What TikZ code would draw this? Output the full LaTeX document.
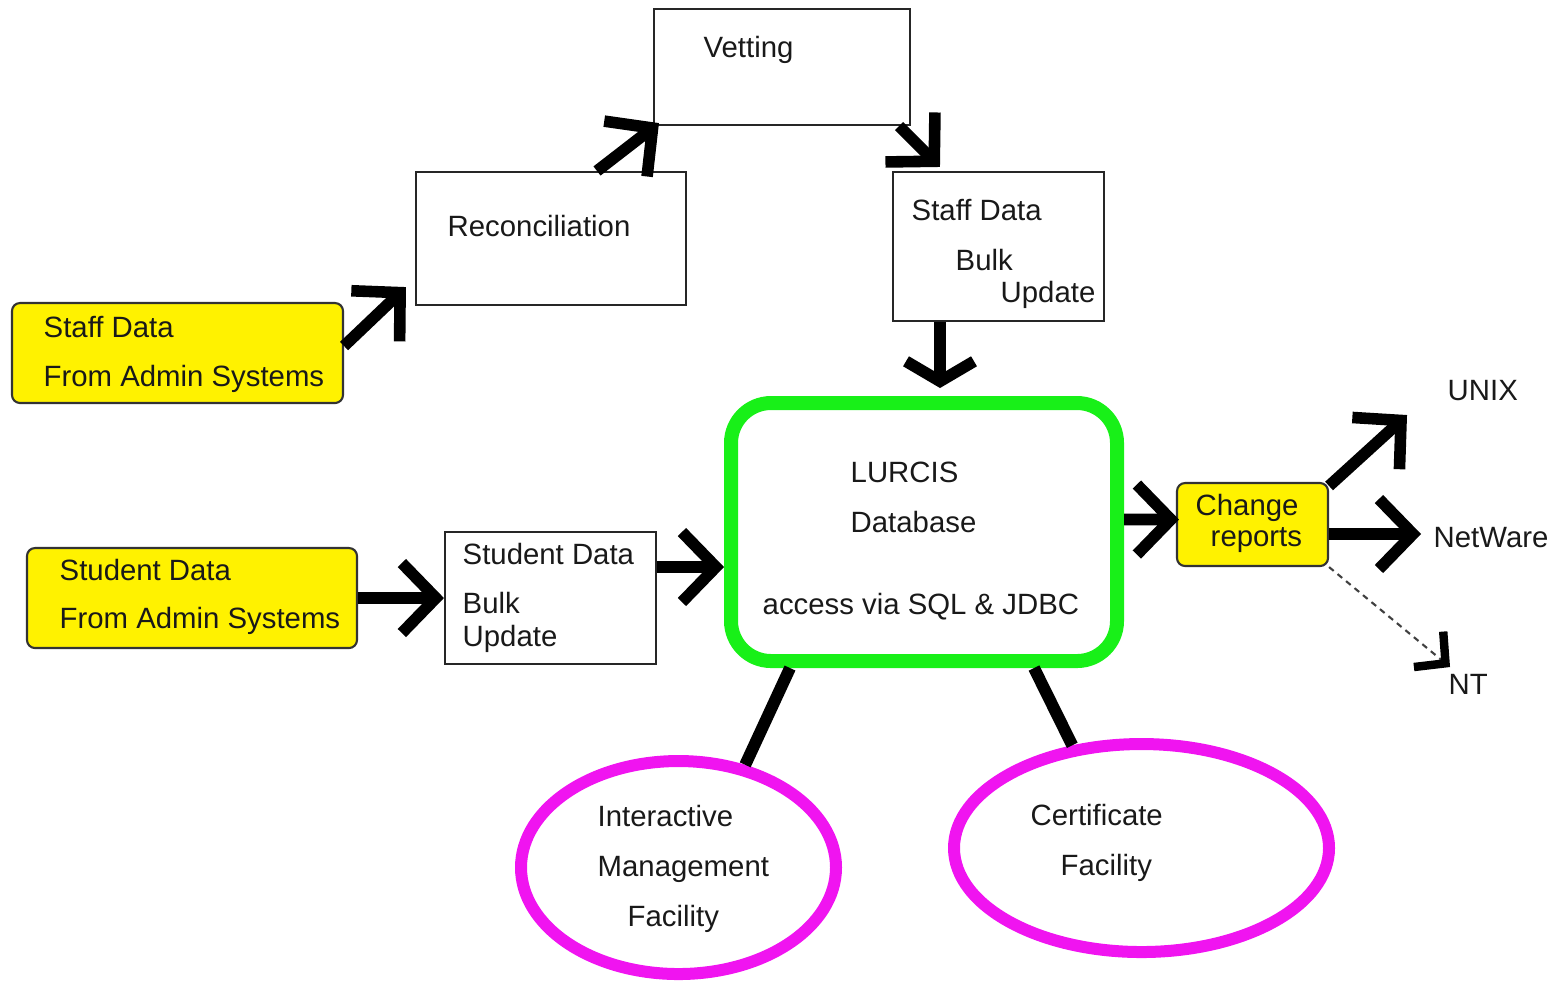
\documentclass[tikz,border=0pt]{standalone}
\usepackage{fontspec}
\setmainfont{Liberation Sans}
\usetikzlibrary{arrows.meta, shapes.geometric, positioning}
\definecolor{dbgreen}{RGB}{24,240,24}
\definecolor{facmag}{RGB}{240,20,240}

\begin{document}
\begin{tikzpicture}[font=\fontsize{8.35}{10}\selectfont,
    box/.style={rectangle, draw=black!85, line width=0.6pt, fill=white, inner sep=0pt},
    src/.style={rectangle, rounded corners=0.08cm, draw=black!80, line width=0.6pt, fill=yellow, inner sep=0pt},
    fac/.style={ellipse, draw=facmag, line width=0.12cm, inner sep=0pt},
    txt/.style={anchor=west, inner sep=0pt, text height=0.72em, text depth=0pt, yshift=0.025cm, text=black!90},
    flow/.style={line width=3.3pt, -{Straight Barb[length=0.34cm, width=0.70cm, sharp]}},
    link/.style={line width=3.4pt}]
        \useasboundingbox (0,0) rectangle (15.57,-9.80);

        % staff data path
        \node at (7.82,-0.67) [box, minimum width=2.56cm, minimum height=1.16cm] (vetting) {};
        \node at (7.03,-0.475) [txt] (vetting_t) {Vetting};

        \node at (5.51,-2.385) [box, minimum width=2.70cm, minimum height=1.33cm] (recon) {};
        \node at (4.47,-2.265) [txt] (recon_t) {Reconciliation};

        \node at (9.985,-2.465) [box, minimum width=2.11cm, minimum height=1.49cm] (staffbulk) {};
        \node at (9.11,-2.10) [txt] (staffbulk_t1) {Staff Data};
        \node at (9.55,-2.60) [txt] (staffbulk_t2) {Bulk};
        \node at (10.00,-2.925) [txt] (staffbulk_t3) {Update};

        \node at (1.775,-3.53) [src, minimum width=3.31cm, minimum height=1.00cm] (staff) {};
        \node at (0.43,-3.27) [txt] (staff_t1) {Staff Data};
        \node at (0.43,-3.76) [txt] (staff_t2) {From Admin Systems};

        % student data path
        \node at (1.92,-5.98) [src, minimum width=3.30cm, minimum height=1.00cm] (student) {};
        \node at (0.59,-5.70) [txt] (student_t1) {Student Data};
        \node at (0.59,-6.185) [txt] (student_t2) {From Admin Systems};

        \node at (5.505,-5.98) [box, minimum width=2.11cm, minimum height=1.32cm] (stubulk) {};
        \node at (4.62,-5.54) [txt] (stubulk_t1) {Student Data};
        \node at (4.62,-6.03) [txt] (stubulk_t2) {Bulk};
        \node at (4.62,-6.36) [txt] (stubulk_t3) {Update};

        % database
        \node at (9.24,-5.32) [rectangle, rounded corners=0.4cm, draw=dbgreen, line width=0.14cm, minimum width=3.86cm, minimum height=2.58cm] (lurcis) {};
        \node at (8.50,-4.725) [txt] (lurcis_t1) {LURCIS};
        \node at (8.50,-5.225) [txt] (lurcis_t2) {Database};
        \node at (7.62,-6.04) [txt] (lurcis_t3) {access via SQL \& JDBC};

        % reports
        \node at (12.525,-5.245) [src, minimum width=1.51cm, minimum height=0.83cm] (change) {};
        \node at (11.95,-5.05) [txt] (change_t1) {Change};
        \node at (12.10,-5.365) [txt] (change_t2) {reports};

        \node at (14.47,-3.90) [txt] (unix) {UNIX};
        \node at (14.33,-5.375) [txt] (netware) {NetWare};
        \node at (14.48,-6.84) [txt] (nt) {NT};
        \coordinate (unix_tip) at (14.07,-4.15);
        \coordinate (nt_tip) at (14.50,-6.67);

        % facilities
        \node at (6.785,-8.675) [fac, minimum width=3.15cm, minimum height=2.13cm] (interactive) {};
        \node at (5.97,-8.16) [txt] (interactive_t1) {Interactive};
        \node at (5.97,-8.66) [txt] (interactive_t2) {Management};
        \node at (6.27,-9.16) [txt] (interactive_t3) {Facility};

        \node at (11.415,-8.48) [fac, minimum width=3.75cm, minimum height=2.08cm] (certificate) {};
        \node at (10.30,-8.15) [txt] (certificate_t1) {Certificate};
        \node at (10.60,-8.65) [txt] (certificate_t2) {Facility};

        \coordinate (lurcis_in) at ([yshift=-0.35cm]lurcis.west);

        \draw[flow] ([yshift=0.07cm]staff.east) -- ([shift={(-0.09cm,0.19cm)}]recon.south west);
        \draw[flow] ([xshift=0.46cm]recon.north) -- ([shift={(0.06cm,0.03cm)}]vetting.south west);
        \draw[flow] ([xshift=-0.12cm]vetting.south east) -- ([shift={(0.48cm,0.04cm)}]staffbulk.north west);
        \draw[line width=3.3pt, -{Straight Barb[length=0.2cm, width=0.68cm, sharp]}]
                ([xshift=-0.585cm]staffbulk.south) -- ([shift={(0.16cm,0.08cm)}]lurcis.north);
        \draw[flow] (student.east) -- (stubulk.west);
        \draw[flow] (stubulk.east |- lurcis_in) -- (lurcis_in);
        \draw[flow] ([yshift=0.125cm]lurcis.east) -- ([shift={(0.03cm,0.05cm)}]change.west);
        \draw[flow] ([yshift=-0.04cm]change.north east) -- (unix_tip);
        \draw[flow] ([yshift=-0.095cm]change.east) -- ([shift={(-0.12cm,0.01cm)}]netware.west);
        \draw[line width=0.6pt, black!75, dash pattern=on 0.06cm off 0.05cm,
              -{Straight Barb[length=0.22cm, width=0.46cm, line width=2.4pt, color=black, sharp]}]
                (change.south east) -- (nt_tip);
        \draw[link] ([xshift=-1.34cm]lurcis.south) -- (interactive.57);
        \draw[link] ([xshift=1.10cm]lurcis.south) -- (certificate.124);
    \end{tikzpicture}
\end{document}
